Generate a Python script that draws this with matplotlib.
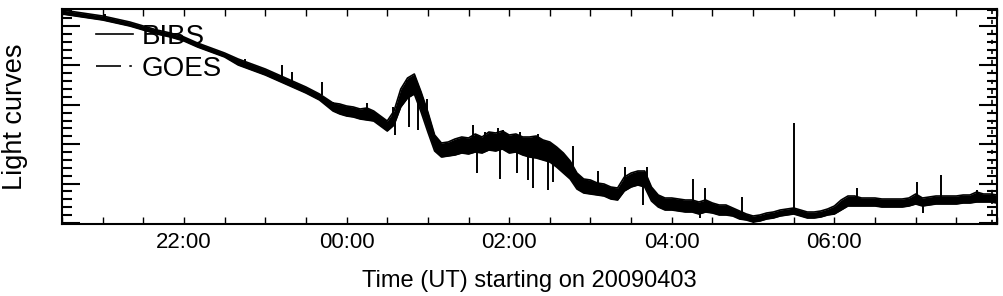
import numpy as np
import matplotlib.pyplot as plt
from matplotlib.ticker import MultipleLocator, FixedLocator

plt.rcParams['font.family'] = ['Liberation Sans', 'DejaVu Sans']

# BIBS light curve, minutes after 20:00 UT on 20090403 (arbitrary units)
t_min = [30, 40, 50, 60, 70, 80, 90, 100, 110, 120, 130, 140, 150, 160, 170,
         180, 190, 200, 210, 220,
         230, 235, 240, 245, 250, 255, 260, 265, 270, 275, 280, 285, 290, 295,
         300, 305, 310, 315, 320, 325, 330, 335, 340, 345, 350, 355, 360, 365,
         370, 375, 380, 385, 390, 395, 400, 405, 410, 415, 420, 425, 430, 435,
         440, 445, 450, 455, 460, 465, 470, 475, 480, 485, 490, 495, 500, 505,
         510, 515, 520, 525, 530, 535, 540, 545, 550, 555, 560, 565, 570, 575,
         580, 585, 590, 595, 600, 605, 610, 615, 620, 625, 630, 635, 640, 645,
         650, 655, 660, 665, 670, 675, 680, 685, 690, 695, 700, 705, 710, 715,
         720]
# upper / lower edge of the noisy curve
bibs_hi = [214, 212, 210, 208, 205, 202, 198, 194, 191, 187, 181, 176, 171,
           165, 160, 155, 149, 143, 137, 130,
           121, 120, 118, 117, 115, 116, 113, 108, 103, 113, 135, 146, 150, 132,
           112, 89, 81, 82, 85, 87, 86, 90, 87, 92, 91, 93, 89, 90,
           87, 87, 88, 84, 82, 77, 71, 63, 51, 45, 44, 41, 40, 37,
           36, 47, 51, 53, 53, 37, 29, 26, 26, 25, 24, 24, 22, 24,
           21, 19, 19, 16, 13, 10, 8, 9, 11, 12, 14, 15, 16, 14,
           12, 12, 13, 15, 18, 24, 28, 28, 26, 26, 26, 25, 25, 25,
           25, 26, 30, 26, 27, 28, 28, 28, 28, 29, 29, 32, 30, 30,
           29]
bibs_lo = [210, 208, 206, 204, 201, 198, 194, 190, 187, 183, 177, 172, 167,
           159, 154, 149, 143, 137, 131, 124,
           113, 110, 108, 107, 105, 104, 103, 98, 93, 99, 117, 126, 130, 112,
           92, 73, 67, 68, 69, 71, 70, 72, 71, 74, 73, 75, 71, 72,
           69, 67, 66, 64, 62, 57, 51, 45, 35, 31, 30, 29, 28, 25,
           24, 33, 37, 39, 37, 23, 17, 14, 14, 13, 12, 12, 10, 12,
           11, 9, 9, 8, 5, 4, 2, 3, 5, 6, 8, 9, 10, 8,
           6, 6, 7, 9, 10, 14, 18, 18, 18, 18, 18, 17, 17, 17,
           17, 18, 20, 18, 19, 20, 20, 20, 20, 21, 21, 22, 22, 22,
           21]

# isolated spikes: time, curve level, spike tip
spike_t = [61.7, 165, 192.3, 199.7, 221.8, 229.9, 255, 274.1, 284.5, 299.2,
           333.2, 342, 351.6, 355.3, 367.8, 381.1, 406.9, 425.4, 445.3, 461.5,
           495.4, 504.3, 531.6, 569.9, 616.4, 660.7, 678.4, 704.9,
           275.6, 286, 292.6, 336.1, 353.1, 365.6, 373.7, 377.4, 388.5, 392.2,
           412.1, 458.5, 500.6, 665.1]
spike_base = [206, 157, 144, 141, 129, 117, 110, 106, 136, 104,
              80, 81, 82, 84, 79, 77, 52, 35, 40, 39,
              18, 18, 9, 13, 23, 25, 24, 27,
              106, 136, 122, 80, 82, 80, 77, 77, 73, 70,
              45, 46, 16, 22]
spike_tip = [210, 165, 159, 152, 142, 122, 121, 117, 144, 125,
             99, 92, 96, 94, 92, 90, 78, 53, 57, 57,
             45, 36, 27, 101, 36, 42, 49, 34,
             89, 97, 94, 51, 45, 51, 44, 36, 34, 42,
             37, 19, 6, 11]

# GOES trace (only visible at the right edge)
goes_t = [716, 716]
goes_v = [0, 215]

tick_pos = [120, 240, 360, 480, 600]
tick_labels = ['22:00', '00:00', '02:00', '04:00', '06:00']

fig = plt.figure(figsize=(10.04, 2.96), dpi=100)
ax = fig.add_axes([62/1004, 1 - 224/296, 935/1004, 215/296])

ax.fill_between(t_min, bibs_lo, bibs_hi, color='black', lw=0)
ax.plot(t_min, bibs_hi, color='black', lw=1.2, label='BIBS')
ax.plot(t_min, bibs_lo, color='black', lw=1.2)
ax.vlines(spike_t, spike_base, spike_tip, color='black', lw=1.4)
ax.plot(goes_t, goes_v, color='black', lw=1.2, linestyle=(0, (2.5, 3.5)))

# legend handle for GOES (long dash - dot)
ax.plot([], [], color='black', lw=1.2, linestyle=(0, (15, 5, 1.5, 5)), label='GOES')
handles, labels = ax.get_legend_handles_labels()
leg = ax.legend([handles[0], handles[-1]], ['BIBS', 'GOES'], loc='upper left',
                bbox_to_anchor=(0.036, 0.93), frameon=False, fontsize=20,
                handlelength=1.35, handletextpad=0.3, labelspacing=0.2,
                borderaxespad=0, borderpad=0)

ax.set_xlim(30, 720)
ax.set_ylim(0, 215)

ax.set_xticks(tick_pos)
ax.set_xticklabels(tick_labels)
ax.xaxis.set_minor_locator(MultipleLocator(30))
ax.yaxis.set_major_locator(FixedLocator(np.arange(1, 215, 39.4)))
ax.yaxis.set_minor_locator(FixedLocator(np.arange(1, 215, 7.88)))
ax.set_yticklabels([])

ax.tick_params(axis='x', which='both', direction='in', top=True, bottom=True,
               length=5, width=1, labelsize=16, pad=6)
ax.tick_params(axis='y', which='major', direction='in', left=True, right=True,
               length=13, width=1.5)
ax.tick_params(axis='y', which='minor', direction='in', left=True, right=True,
               length=7, width=1.5)

for s in ax.spines.values():
    s.set_linewidth(1.5)

ax.set_xlabel('Time (UT) starting on 20090403', fontsize=17, labelpad=12)
ax.set_ylabel('Light curves', fontsize=19.5, labelpad=21)

plt.savefig('out.png', dpi=100)
